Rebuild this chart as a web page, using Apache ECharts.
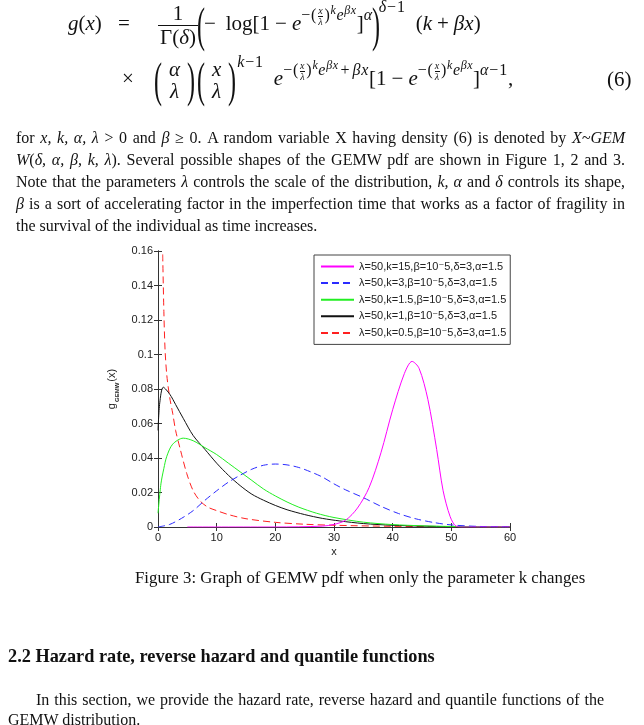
<!DOCTYPE html>
<html>
<head>
<meta charset="utf-8">
<script src="https://cdn.jsdelivr.net/npm/echarts@6/dist/echarts.min.js"></script>
<style>
  html, body { margin: 0; padding: 0; background: #fff; }
  #page { position: relative; width: 644px; height: 725px; overflow: hidden; }
  #chart { position: absolute; left: 0; top: 0; width: 644px; height: 725px; }
  .t { position: absolute; font-family: "Liberation Serif", "DejaVu Serif", serif; color: #111; white-space: nowrap; }
  .eq { font-size: 21px; line-height: 1; }
  .w { display: inline-block; }
  .frac { display: inline-block; vertical-align: middle; text-align: center; line-height: 1.05; }
  .frac > span { display: block; padding: 0 2px; }
  .frac > span:first-child { border-bottom: 1px solid #111; }
  .nb > span { padding: 0 6px; }
  .nb > span:first-child { border-bottom: 0; }
  .sfrac { display: inline-block; vertical-align: middle; text-align: center; font-size: 10px; line-height: 1; margin: 0 1px; }
  .sfrac > span { display: block; }
  .sfrac > span:first-child { border-bottom: 1px solid #111; }
  .big { display: inline-block; font-size: 48px; transform: scaleX(0.5); vertical-align: middle; line-height: 1; margin: 0 -5px; }
  .nbw .big { margin: 0 -3px; }
  sup { font-size: 16px; vertical-align: 0.6em; line-height: 0; letter-spacing: 0.8px; }
  sup sup { font-size: 12px; vertical-align: 0.5em; letter-spacing: 0.5px; }
  sup.hi { vertical-align: 1.1em; }
  .op { margin: 0 5px; }
  .sop { margin: 0 2px; }
  .para { font-size: 16px; line-height: 22px; }
  .para div { text-align: justify; text-align-last: justify; }
  .para div.last { text-align-last: left; }
</style>
</head>
<body>
<div id="page">
  <div id="chart"></div>

  <div class="t eq" style="left:68px; top:1px;">
    <span class="w" style="width:50px"><i>g</i>(<i>x</i>)</span><span class="w" style="width:40px">=</span><span class="frac"><span>1</span><span>Γ(<i>δ</i>)</span></span><span class="big">(</span>−<span class="op"></span>log[1<span class="op">−</span><i>e</i><sup>−(<span class="sfrac"><span><i>x</i></span><span><i>λ</i></span></span>)<sup><i>k</i></sup><i>e</i><sup><i>βx</i></sup></sup>]<sup><i>α</i></sup><span class="big">)</span><sup class="hi"><i>δ</i>−1</sup><span class="op"></span>(<i>k</i><span class="op">+</span><i>βx</i>)
  </div>
  <div class="t eq nbw" style="left:122px; top:56px;">
    <span class="w" style="width:31px">×</span><span class="big">(</span><span class="frac nb"><span><i>α</i></span><span><i>λ</i></span></span><span class="big">)</span><span class="big">(</span><span class="frac nb"><span><i>x</i></span><span><i>λ</i></span></span><span class="big">)</span><sup class="hi"><i>k</i>−1</sup><span class="op"></span><i>e</i><sup>−(<span class="sfrac"><span><i>x</i></span><span><i>λ</i></span></span>)<sup><i>k</i></sup><i>e</i><sup><i>βx</i></sup><span class="sop">+</span><i>βx</i></sup>[1<span class="op">−</span><i>e</i><sup>−(<span class="sfrac"><span><i>x</i></span><span><i>λ</i></span></span>)<sup><i>k</i></sup><i>e</i><sup><i>βx</i></sup></sup>]<sup><i>α</i>−1</sup>,
  </div>
  <div class="t eq" style="left:607px; top:69px;">(6)</div>

  <div class="t para" style="left:16px; top:127px; width:609px;">
    <div>for <i>x, k, α, λ</i> &gt; 0 and <i>β</i> ≥ 0. A random variable X having density (6) is denoted by <i>X~GEM</i></div>
    <div><i>W</i>(<i>δ, α, β, k, λ</i>). Several possible shapes of the GEMW pdf are shown in Figure 1, 2 and 3.</div>
    <div>Note that the parameters <i>λ</i> controls the scale of the distribution, <i>k, α</i> and <i>δ</i> controls its shape,</div>
    <div><i>β</i> is a sort of accelerating factor in the imperfection time that works as a factor of fragility in</div>
    <div class="last">the survival of the individual as time increases.</div>
  </div>

  <div class="t" style="left:135px; top:567px; font-size:16.8px; line-height:22px;">Figure 3: Graph of GEMW pdf when only the parameter k changes</div>
  <div class="t" style="left:8px; top:646px; font-size:18.3px; font-weight:bold;">2.2 Hazard rate, reverse hazard and quantile functions</div>
  <div class="t para" style="left:8px; top:690px; width:596px; line-height:20px;">
    <div style="text-indent:28px;">In this section, we provide the hazard rate, reverse hazard and quantile functions of the</div>
    <div class="last">GEMW distribution.</div>
  </div>
</div>

<script>
// legend labels
const names = [
  "λ=50,k=15,β=10⁻5,δ=3,α=1.5",
  "λ=50,k=3,β=10⁻5,δ=3,α=1.5",
  "λ=50,k=1.5,β=10⁻5,δ=3,α=1.5",
  "λ=50,k=1,β=10⁻5,δ=3,α=1.5",
  "λ=50,k=0.5,β=10⁻5,δ=3,α=1.5"
];

// curves, [x, g(x)]
const k15 = [[5, 0], [20, 0], [28, 0.0005], [30, 0.0015], [32, 0.004], [34, 0.011], [36, 0.023],
  [38, 0.043], [40, 0.068], [42, 0.089], [43.3, 0.096], [44.5, 0.092], [46, 0.074], [47.5, 0.045],
  [48.6, 0.021], [49.8, 0.006], [50.8, 0.0005], [52, 0], [60, 0]];
const k3 = [[0, 0], [2, 0.0015], [4, 0.005], [6, 0.0095], [8, 0.0155], [10, 0.021], [12, 0.026],
  [14, 0.030], [16, 0.0335], [18, 0.0358], [20, 0.0365], [22, 0.036], [24, 0.0345], [26, 0.032],
  [28, 0.029], [30, 0.025], [32, 0.0215], [35, 0.017], [38, 0.012], [41, 0.0078], [44, 0.0047],
  [47, 0.0026], [50, 0.0012], [55, 0.0003], [60, 0.0001]];
const k1_5 = [[0, 0.008], [0.5, 0.025], [1, 0.034], [1.5, 0.041], [2.5, 0.048], [4.3, 0.0515],
  [6, 0.050], [8, 0.046], [10, 0.042], [12, 0.037], [14, 0.032], [16, 0.027], [18, 0.022],
  [20, 0.018], [22, 0.0145], [24, 0.0115], [27, 0.008], [30, 0.0055], [35, 0.0028], [40, 0.0014],
  [45, 0.0007], [50, 0.0003], [55, 0.0001], [60, 0]];
const k1 = [[0, 0.056], [0.3, 0.072], [0.9, 0.081], [2, 0.077], [3, 0.071], [4.3, 0.063], [6, 0.053],
  [8, 0.045], [10, 0.037], [12, 0.030], [14, 0.024], [16, 0.019], [18, 0.0155], [20, 0.0125],
  [22, 0.010], [25, 0.0072], [28, 0.005], [31, 0.0035], [35, 0.002], [40, 0.001], [45, 0.0005],
  [50, 0.0002], [60, 0]];
const k0_5 = [[0.8, 0.158], [1, 0.125], [1.2, 0.103], [1.5, 0.088], [2, 0.075], [2.5, 0.066],
  [3, 0.056], [3.8, 0.045], [4.9, 0.031], [6, 0.021], [7.2, 0.015], [8.5, 0.0115], [10, 0.0095],
  [12, 0.0072], [15, 0.0048], [20, 0.0027], [25, 0.0016], [30, 0.001], [40, 0.0004], [50, 0.0002],
  [60, 0.0001]];

const colors = ["#ff00ff", "#2b2bff", "#22ee22", "#111111", "#ff2020"];
const dashed = [false, true, false, false, true];
const curves = [k15, k3, k1_5, k1, k0_5];

const chart = echarts.init(document.getElementById("chart"), null, { renderer: "canvas" });

const axisFont = { fontFamily: "Liberation Sans, Arial, sans-serif", fontSize: 11, color: "#222" };
const lineStyle = { color: "#333", width: 1 };

const option = {
  backgroundColor: "transparent",
  animation: false,
  grid: { left: 158, top: 251, width: 352, height: 276, containLabel: false },
  legend: {
    orient: "vertical",
    left: 314,
    top: 255,
    backgroundColor: "#fff",
    borderColor: "#444",
    borderWidth: 1,
    borderRadius: 0,
    padding: [6, 4, 6, 6],
    itemWidth: 33,
    itemHeight: 12,
    itemGap: 5.6,
    itemStyle: { opacity: 0 },
    textStyle: { fontFamily: "Liberation Sans, DejaVu Sans, sans-serif", fontSize: 11, color: "#222" },
    data: names
  },
  xAxis: [
    {
      type: "value", min: 0, max: 60, interval: 10, position: "bottom",
      axisLine: { show: true, lineStyle: lineStyle },
      axisTick: { show: true, inside: true, length: 4, lineStyle: lineStyle },
      axisLabel: Object.assign({ margin: 5 }, axisFont),
      splitLine: { show: false },
      name: "x", nameLocation: "middle", nameGap: 19,
      nameTextStyle: axisFont
    },
    {
      type: "value", min: 0, max: 60, interval: 10, position: "top",
      axisLine: { show: true, lineStyle: lineStyle },
      axisTick: { show: true, inside: true, length: 4, lineStyle: lineStyle },
      axisLabel: { show: false },
      splitLine: { show: false }
    }
  ],
  yAxis: [
    {
      type: "value", min: 0, max: 0.16, interval: 0.02, position: "left",
      axisLine: { show: true, lineStyle: lineStyle },
      axisTick: { show: true, inside: true, length: 4, lineStyle: lineStyle },
      axisLabel: Object.assign({ margin: 5 }, axisFont),
      splitLine: { show: false },
      name: "{g|g}{s|GEMW}{g|(x)}", nameLocation: "middle", nameGap: 24, nameRotate: 90,
      nameTextStyle: {
        rich: {
          g: { fontFamily: "Liberation Sans, Arial, sans-serif", fontSize: 11, color: "#222", padding: [0, 1, 6, 1] },
          s: { fontFamily: "Liberation Sans, Arial, sans-serif", fontSize: 6, fontWeight: "bold", color: "#222", padding: [6, 0, 0, 0] }
        }
      }
    },
    {
      type: "value", min: 0, max: 0.16, interval: 0.02, position: "right",
      axisLine: { show: true, lineStyle: lineStyle },
      axisTick: { show: true, inside: true, length: 4, lineStyle: lineStyle },
      axisLabel: { show: false },
      splitLine: { show: false }
    }
  ],
  series: curves.map((d, i) => ({
    name: names[i],
    type: "line",
    data: d,
    smooth: 0.3,
    symbol: "none",
    showSymbol: false,
    clip: true,
    lineStyle: { color: colors[i], width: 1, type: dashed[i] ? [7, 4] : "solid" },
    itemStyle: { color: colors[i] },
    z: 5 - i
  }))
};

chart.setOption(option);
</script>
</body>
</html>
